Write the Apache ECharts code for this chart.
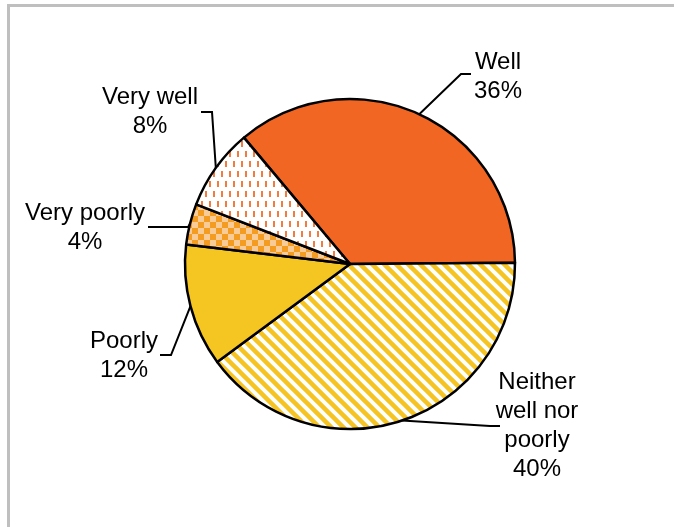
<!DOCTYPE html>
<html>
<head>
<meta charset="utf-8">
<script src="https://cdn.jsdelivr.net/npm/echarts@6/dist/echarts.min.js"></script>
<style>
  html, body { margin: 0; padding: 0; background: #fff; }
  #main { width: 674px; height: 527px; }
</style>
</head>
<body>
<div id="main"></div>
<script>
// data
const categories = ['Well', 'Neither\nwell nor\npoorly', 'Poorly', 'Very poorly', 'Very well'];
const values = [36, 40, 12, 4, 8];

// label placement (centre of text block, elbow and end of the leader)
const labelSpots = [
    {x: 498, y: 77, elbow: [461, 74], end: [471, 74]},
    {x: 537, y: 426, elbow: [490, 426], end: [500, 426]},
    {x: 124, y: 356, elbow: [171, 355], end: [160, 355]},
    {x: 85, y: 228, elbow: [188, 227], end: [148, 227]},
    {x: 150, y: 112, elbow: [212, 112], end: [201, 112]}
];

function makeTile(w, h, draw) {
    const c = document.createElement('canvas');
    c.width = w;
    c.height = h;
    const ctx = c.getContext('2d');
    draw(ctx);
    return c;
}

// diagonal yellow stripes
const stripes = makeTile(12, 12, ctx => {
    ctx.fillStyle = '#fff';
    ctx.fillRect(0, 0, 12, 12);
    ctx.strokeStyle = '#F5C322';
    ctx.lineWidth = 4.5;
    for (let k = -12; k <= 12; k += 12) {
        ctx.beginPath();
        ctx.moveTo(k - 2, -2);
        ctx.lineTo(k + 14, 14);
        ctx.stroke();
    }
});

// orange dashes on white
const dashes = makeTile(8, 20, ctx => {
    ctx.fillStyle = '#fff';
    ctx.fillRect(0, 0, 8, 20);
    ctx.fillStyle = '#F47A3E';
    ctx.fillRect(1, 1, 2, 6);
    ctx.fillRect(5, 11, 2, 6);
});

// orange checkerboard
const checks = makeTile(12, 12, ctx => {
    ctx.fillStyle = '#F9CC97';
    ctx.fillRect(0, 0, 12, 12);
    ctx.fillStyle = '#F49C22';
    ctx.fillRect(0, 0, 6, 6);
    ctx.fillRect(6, 6, 6, 6);
});

const fills = [
    '#F26623',
    {image: stripes, repeat: 'repeat'},
    '#F5C622',
    {image: checks, repeat: 'repeat'},
    {image: dashes, repeat: 'repeat'}
];

const chart = echarts.init(document.getElementById('main'));

const option = {
    animation: false,
    graphic: [
        {
            type: 'rect',
            shape: {x: 8.5, y: 5.5, width: 700, height: 600},
            style: {fill: 'none', stroke: '#BFBFBF', lineWidth: 3},
            silent: true
        }
    ],
    series: [
        {
            type: 'pie',
            center: [350, 264],
            radius: 165,
            startAngle: 130,
            clockwise: true,
            data: categories.map((name, i) => ({
                name: name,
                value: values[i],
                itemStyle: {color: fills[i]}
            })),
            itemStyle: {borderColor: '#000', borderWidth: 2.5},
            label: {
                show: true,
                position: 'outside',
                formatter: '{b}\n{c}%',
                fontFamily: 'Liberation Sans, Arial, sans-serif',
                fontSize: 24,
                lineHeight: 29,
                color: '#000',
                align: 'center'
            },
            labelLine: {
                show: true,
                lineStyle: {color: '#000', width: 2}
            },
            labelLayout: function (params) {
                const s = labelSpots[params.dataIndex];
                const start = params.labelLinePoints ? params.labelLinePoints[0] : s.elbow;
                return {
                    x: s.x,
                    y: s.y,
                    align: 'center',
                    verticalAlign: 'middle',
                    labelLinePoints: [start, s.elbow, s.end]
                };
            },
            emphasis: {disabled: true}
        }
    ]
};

option && chart.setOption(option);
</script>
</body>
</html>
